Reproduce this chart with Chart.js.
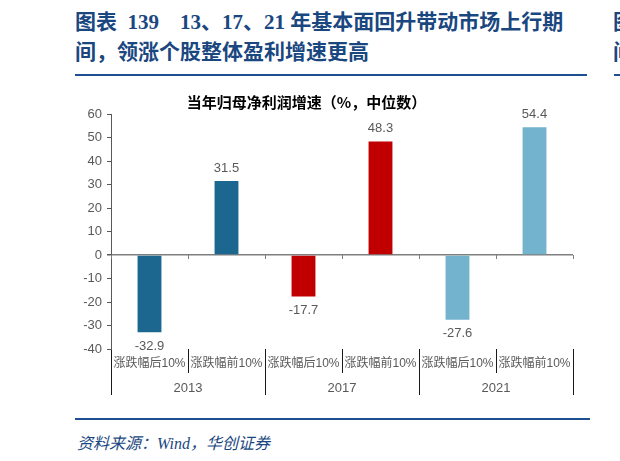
<!DOCTYPE html>
<html>
<head>
<meta charset="utf-8">
<script src="https://cdn.jsdelivr.net/npm/chart.js@4/dist/chart.umd.min.js"></script>
<style>
    html, body { margin: 0; padding: 0; background: #fff; }
    body { width: 620px; height: 461px; position: relative; overflow: hidden; }
    .title {
        position: absolute; left: 75px; top: 7px;
        font: bold 21px "Liberation Serif", "Noto Sans CJK SC", serif;
        line-height: 30px; color: #1A4780; white-space: nowrap;
    }
    .rule { position: absolute; height: 2px; background: #1D4F91; }
    .source {
        position: absolute; left: 77px; top: 430px;
        font: italic 16px "Liberation Serif", "Noto Sans CJK SC", serif;
        color: #1A4780; white-space: nowrap;
    }
    #wrap { position: absolute; left: 40px; top: 88px; width: 580px; height: 322px; }
</style>
</head>
<body>

<div class="title">图表&nbsp;&nbsp;139&nbsp;&nbsp;&nbsp;&nbsp;13、17、21&nbsp;年基本面回升带动市场上行期<br>间，领涨个股整体盈利增速更高</div>
<div class="title" style="left:613px">图<br>间</div>
<div class="rule" style="left:75px; top:74px; width:512px"></div>
<div class="rule" style="left:614px; top:74px; width:10px"></div>

<div id="wrap"><canvas id="growthChart"></canvas></div>

<div class="rule" style="left:75px; top:418px; width:515px"></div>
<div class="source">资料来源：Wind，华创证券</div>

<script>
const chartTitle = '当年归母净利润增速（%，中位数）';
const categories = ['涨跌幅后10%', '涨跌幅前10%', '涨跌幅后10%', '涨跌幅前10%', '涨跌幅后10%', '涨跌幅前10%'];
const years = ['2013', '2017', '2021'];
const growth = [-32.9, 31.5, -17.7, 48.3, -27.6, 54.4];
const barColors = ['#1B6790', '#1B6790', '#C00000', '#C00000', '#74B3CE', '#74B3CE'];

const grey = '#595959';
const sans = '"Liberation Sans", "Noto Sans CJK SC", sans-serif';

// value labels above / below bars
const valueLabels = {
    id: 'valueLabels',
    afterDatasetsDraw(chart) {
        const c = chart.ctx;
        const meta = chart.getDatasetMeta(0);
        c.save();
        c.fillStyle = grey;
        c.font = '13px "Liberation Sans", sans-serif';
        c.textAlign = 'center';
        c.textBaseline = 'middle';
        meta.data.forEach((bar, i) => {
            const v = growth[i];
            const y = v >= 0 ? bar.y - 13 : bar.y + 14;
            c.fillText(v.toFixed(1), bar.x, y);
        });
        c.restore();
    }
};

// small ticks under the zero line at category boundaries
const zeroTicks = {
    id: 'zeroTicks',
    afterDraw(chart) {
        const x = chart.scales.x;
        const y0 = chart.scales.y.getPixelForValue(0);
        const c = chart.ctx;
        c.save();
        c.strokeStyle = '#7f7f7f';
        c.lineWidth = 1;
        for (let i = 0; i <= categories.length; i++) {
            const px = Math.round(x.getPixelForValue(i - 0.5)) + 0.5;
            c.beginPath();
            c.moveTo(px, y0);
            c.lineTo(px, y0 + 4);
            c.stroke();
        }
        c.restore();
    }
};

const ctx = document.getElementById('growthChart');

new Chart(ctx, {
    type: 'bar',
    data: {
        labels: categories,
        datasets: [{
            data: growth,
            backgroundColor: barColors,
            categoryPercentage: 1,
            barPercentage: 0.31
        }]
    },
    options: {
        responsive: true,
        maintainAspectRatio: false,
        animation: false,
        layout: { padding: { right: 47, bottom: 0 } },
        plugins: {
            legend: { display: false },
            tooltip: { enabled: false },
            title: {
                display: true,
                text: chartTitle,
                color: '#000',
                font: { family: '"Noto Sans CJK SC", sans-serif', size: 15, weight: 'bold' },
                padding: { top: 5, bottom: 3 }
            }
        },
        scales: {
            y: {
                min: -40,
                max: 60,
                afterFit: s => { s.width = 71; },
                ticks: { stepSize: 10, color: grey, font: { family: sans, size: 13 }, padding: 5 },
                grid: {
                    color: c => (c.tick && c.tick.value === 0 ? '#7f7f7f' : 'rgba(0,0,0,0)'),
                    lineWidth: c => (c.tick && c.tick.value === 0 ? 1.5 : 1),
                    tickColor: grey,
                    tickLength: 4
                },
                border: { color: grey }
            },
            x: {
                offset: true,
                afterFit: s => { s.height = 24; },
                ticks: {
                    color: grey,
                    font: { family: sans, size: 12 },
                    maxRotation: 0,
                    minRotation: 0,
                    autoSkip: false,
                    padding: -17
                },
                grid: {
                    offset: true,
                    drawOnChartArea: false,
                    tickLength: 24,
                    tickColor: c => (c.index === categories.length ? '#7f7f7f' : '#1a1a1a')
                },
                border: { display: false }
            },
            x2: {
                type: 'category',
                position: 'bottom',
                labels: years,
                offset: true,
                afterFit: s => { s.height = 37; },
                ticks: { color: grey, font: { family: sans, size: 13 }, padding: -14, maxRotation: 0 },
                grid: {
                    offset: true,
                    drawOnChartArea: false,
                    tickLength: 22,
                    tickColor: c => (c.index === years.length ? '#7f7f7f' : '#1a1a1a')
                },
                border: { display: false }
            }
        }
    },
    plugins: [valueLabels, zeroTicks]
});
</script>
</body>
</html>
